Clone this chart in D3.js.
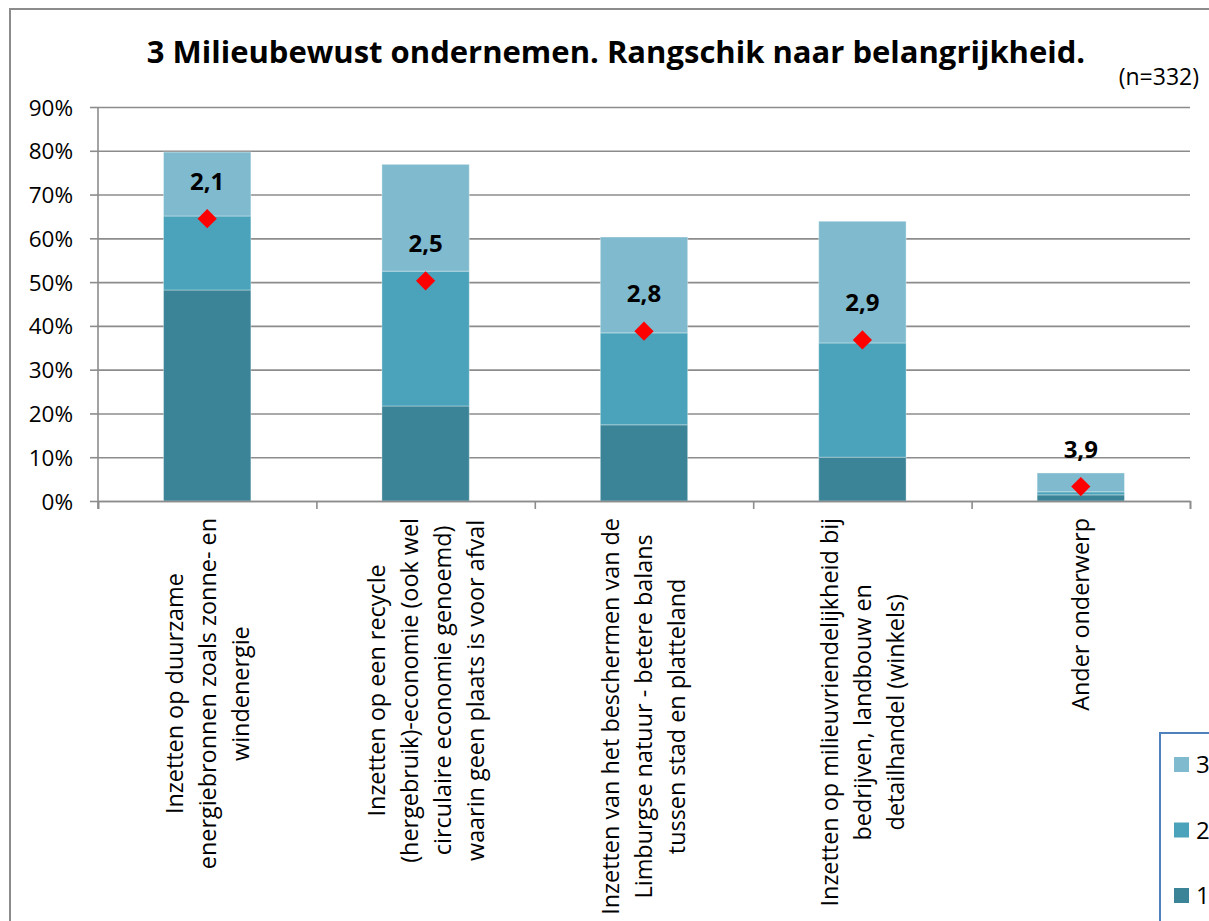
<!DOCTYPE html>
<html>
<head>
<meta charset="utf-8">
<script src="https://cdn.jsdelivr.net/npm/d3@7"></script>
<style>
  html, body { margin: 0; padding: 0; background: #fff; }
  svg text { font-family: "Open Sans", "DejaVu Sans", sans-serif; fill: #000; }
</style>
</head>
<body>
<div id="chart"></div>
<script>
// category labels, one array of lines per bar
var categories = [
    ["Inzetten op duurzame", "energiebronnen zoals zonne- en", "windenergie"],
    ["Inzetten op een recycle", "(hergebruik)-economie (ook wel", "circulaire economie genoemd)", "waarin geen plaats is voor afval"],
    ["Inzetten van het beschermen van de", "Limburgse natuur - betere balans", "tussen stad en platteland"],
    ["Inzetten op milieuvriendelijkheid bij", "bedrijven, landbouw en", "detailhandel (winkels)"],
    ["Ander onderwerp"]
];
// share of respondents (%) that put the item on rank 1, 2, 3
var rank1 = [48.2, 21.7, 17.4, 10.0, 1.4];
var rank2 = [16.9, 30.8, 21.0, 26.1, 0.7];
var rank3 = [14.6, 24.4, 21.9, 27.8, 4.3];
// mean rank (label) and where its marker sits on the % axis
var meanRank = ["2,1", "2,5", "2,8", "2,9", "3,9"];
var meanMarker = [64.5, 50.3, 38.8, 36.8, 3.3];
var yTicks = [0, 10, 20, 30, 40, 50, 60, 70, 80, 90];
var seriesNames = ["1", "2", "3"];
var seriesColors = ["#3b8497", "#4aa3ba", "#7fbace"];

var W = 1209, H = 921;
var plotLeft = 98, plotRight = 1190, plotTop = 107, plotBottom = 501;

var svg = d3.select("#chart").append("svg")
    .attr("width", W)
    .attr("height", H);

// outer chart frame
svg.append("rect")
    .attr("x", 10).attr("y", 9)
    .attr("width", W + 20).attr("height", H + 20)
    .attr("fill", "none")
    .attr("stroke", "#8c8c8c")
    .attr("stroke-width", 2);

// title
svg.append("text")
    .attr("x", 616).attr("y", 63)
    .attr("text-anchor", "middle")
    .style("font-size", "31px")
    .style("font-weight", "bold")
    .text("3 Milieubewust ondernemen. Rangschik naar belangrijkheid.");

svg.append("text")
    .attr("x", 1199).attr("y", 85)
    .attr("text-anchor", "end")
    .style("font-size", "23px")
    .text("(n=332)");

/* Scales */
var idx = d3.range(categories.length);
var x = d3.scaleBand()
    .domain(idx)
    .range([plotLeft, plotRight])
    .paddingInner(0.6)
    .paddingOuter(0.3);
var xEdge = d3.scaleLinear().domain([0, categories.length]).range([plotLeft, plotRight]);
var y = d3.scaleLinear().domain([0, 90]).range([plotBottom, plotTop]);

/* gridlines */
svg.append("g")
    .attr("class", "grid")
    .attr("transform", `translate(${plotLeft},0)`)
    .call(d3.axisLeft(y).tickValues(yTicks).tickSize(-(plotRight - plotLeft)).tickFormat(""))
    .call(g => g.select(".domain").remove())
    .call(g => g.selectAll("line").attr("stroke", "#8c8c8c").attr("stroke-width", 1.6));

/* stacked bars */
var stackData = idx.map(i => ({ i: i, r1: rank1[i], r2: rank2[i], r3: rank3[i] }));
var stacked = d3.stack().keys(["r1", "r2", "r3"])(stackData);

svg.append("g").selectAll("g")
    .data(stacked).enter()
    .append("g")
    .attr("fill", (d, k) => seriesColors[k])
    .selectAll("rect")
    .data(d => d).enter()
    .append("rect")
    .attr("x", d => x(d.data.i))
    .attr("width", x.bandwidth())
    .attr("y", d => y(d[1]))
    .attr("height", d => y(d[0]) - y(d[1]))
    .attr("stroke", "rgba(255,255,255,0.35)")
    .attr("stroke-width", 1);

/* axes */
svg.append("g")
    .attr("transform", `translate(0,${plotBottom})`)
    .call(d3.axisBottom(xEdge).ticks(categories.length).tickSize(8).tickSizeOuter(8).tickFormat(""))
    .call(g => g.selectAll("line, path").attr("stroke", "#8c8c8c").attr("stroke-width", 1.6));

var yAxis = svg.append("g")
    .attr("transform", `translate(${plotLeft},0)`)
    .call(d3.axisLeft(y).tickValues(yTicks).tickSize(8).tickSizeOuter(0)
        .tickFormat(d => d + "%"))
    .call(g => g.selectAll("line, path").attr("stroke", "#8c8c8c").attr("stroke-width", 1.6));
yAxis.select(".domain").attr("d", `M0,${plotBottom + 8}V${plotTop}`);
yAxis.selectAll("text")
    .attr("x", -25)
    .attr("dy", "0.36em")
    .style("font-size", "22.5px")
    .style("font-family", "'Open Sans', sans-serif")
    .attr("fill", "#000");

/* mean-rank markers and labels */
var markers = svg.append("g");
markers.selectAll("path")
    .data(idx).enter()
    .append("path")
    .attr("d", d3.symbol().type(d3.symbolSquare).size(185))
    .attr("transform", i => `translate(${x(i) + x.bandwidth() / 2},${y(meanMarker[i])}) rotate(45)`)
    .attr("fill", "#ff0000");

markers.selectAll("text")
    .data(idx).enter()
    .append("text")
    .attr("x", i => x(i) + x.bandwidth() / 2)
    .attr("y", i => y(meanMarker[i]) - 29)
    .attr("text-anchor", "middle")
    .style("font-size", "24px")
    .style("font-weight", "bold")
    .text(i => meanRank[i]);

/* rotated category labels */
var lineGap = 33;
var catLabels = svg.append("g").selectAll("g")
    .data(idx).enter()
    .append("g")
    .attr("transform", i => `translate(${x(i) + x.bandwidth() / 2},518) rotate(-90)`);

catLabels.each(function(i) {
    var g = d3.select(this);
    var lines = categories[i];
    var texts = g.selectAll("text")
        .data(lines).enter()
        .append("text")
        .attr("text-anchor", "middle")
        .attr("dy", "0.36em")
        .style("font-size", "23.4px")
        .attr("y", (d, k) => (k - (lines.length - 1) / 2) * lineGap)
        .text(d => d);
    var maxLen = d3.max(texts.nodes(), n => n.getComputedTextLength());
    texts.attr("x", -maxLen / 2);
});

/* legend */
var legend = svg.append("g");
legend.append("rect")
    .attr("x", 1160).attr("y", 733)
    .attr("width", 120).attr("height", 260)
    .attr("fill", "#fff")
    .attr("stroke", "#4f81bd")
    .attr("stroke-width", 2);

var legendOrder = [2, 1, 0];
var items = legend.selectAll("g.item")
    .data(legendOrder).enter()
    .append("g")
    .attr("class", "item")
    .attr("transform", (d, k) => `translate(1174,${757 + k * 65.5})`);
items.append("rect")
    .attr("width", 15).attr("height", 15)
    .attr("fill", d => seriesColors[d]);
items.append("text")
    .attr("x", 22).attr("y", 16)
    .style("font-size", "24px")
    .text(d => seriesNames[d]);
</script>
</body>
</html>
